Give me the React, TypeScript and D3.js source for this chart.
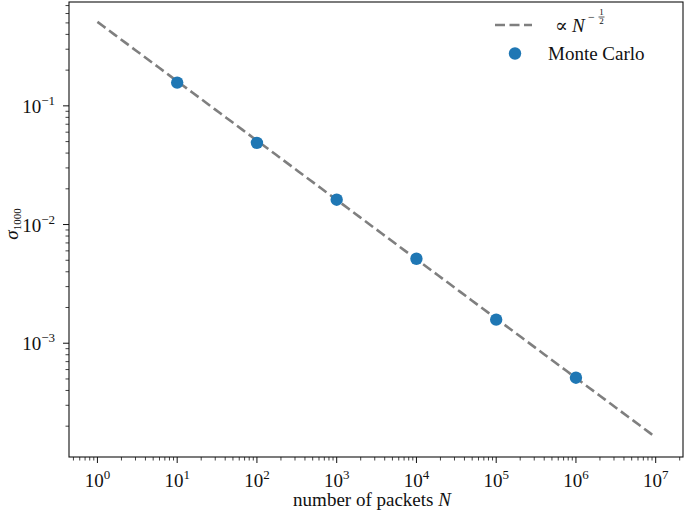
import React from 'react'
import * as d3 from 'd3'

const packets = [10, 100, 1000, 10000, 100000, 1000000]
const sigma = [0.157, 0.0488, 0.0162, 0.00515, 0.00158, 0.000512]
const fitN = [1, 10000000]
const fitC = 0.51
const xTickExp = [0, 1, 2, 3, 4, 5, 6, 7]
const yTickExp = [-1, -2, -3]

const W = 685
const H = 513
const m = {left: 69, right: 683, top: 2, bottom: 457}
const font = "'Liberation Serif', 'DejaVu Serif', serif"
const fs = 19

const Pow = ({exp, ...rest}: any) => (
  <text {...rest} fontFamily={font} fontSize={fs} fill="#111">
    10<tspan dy={-8} fontSize={13}>{exp < 0 ? '\u2212' + -exp : exp}</tspan>
  </text>
)

const App = () => {
  const x = d3.scaleLog().domain([0.44, 2.2e7]).range([m.left, m.right])
  const y = d3.scaleLog().domain([0.75, 1.1e-4]).range([m.top, m.bottom])

  const fitPts = d3.range(0, 101).map(i => {
    const n = Math.pow(10, Math.log10(fitN[0]) + (i / 100) * (Math.log10(fitN[1]) - Math.log10(fitN[0])))
    return [n, fitC / Math.sqrt(n)]
  })
  const line = d3.line<number[]>().x(d => x(d[0])).y(d => y(d[1]))

  const xMinor: number[] = []
  for (let e = -1; e <= 7; e++) for (let k = 2; k <= 9; k++) {
    const v = k * Math.pow(10, e)
    if (v > 0.44 && v < 2.2e7) xMinor.push(v)
  }
  const yMinor: number[] = []
  for (let e = -4; e <= 0; e++) for (let k = 2; k <= 9; k++) {
    const v = k * Math.pow(10, e)
    if (v > 1.1e-4 && v < 0.75) yMinor.push(v)
  }

  return (
    <svg width={W} height={H} style={{position: 'absolute', left: 0, top: 0}}>
      <rect width={W} height={H} fill="white" />
      <path d={line(fitPts) as string} fill="none" stroke="#7f7f7f" strokeWidth={2.6} strokeDasharray="10,4.5" />
      {packets.map((n, i) => (
        <circle key={n} cx={x(n)} cy={y(sigma[i])} r={6.2} fill="#1f77b4" />
      ))}
      <rect x={m.left} y={m.top} width={m.right - m.left} height={m.bottom - m.top} fill="none" stroke="#111" strokeWidth={1.1} />
      {xTickExp.map(e => (
        <g key={e}>
          <line x1={x(Math.pow(10, e))} x2={x(Math.pow(10, e))} y1={m.bottom} y2={m.bottom + 6} stroke="#111" />
          <Pow exp={e} x={x(Math.pow(10, e))} y={m.bottom + 30} textAnchor="middle" />
        </g>
      ))}
      {xMinor.map(v => (
        <line key={v} x1={x(v)} x2={x(v)} y1={m.bottom} y2={m.bottom + 3.5} stroke="#111" strokeWidth={0.8} />
      ))}
      {yTickExp.map(e => (
        <g key={e}>
          <line x1={m.left - 6} x2={m.left} y1={y(Math.pow(10, e))} y2={y(Math.pow(10, e))} stroke="#111" />
          <Pow exp={e} x={m.left - 14} y={y(Math.pow(10, e)) + 7} textAnchor="end" />
        </g>
      ))}
      {yMinor.map(v => (
        <line key={v} x1={m.left - 3.5} x2={m.left} y1={y(v)} y2={y(v)} stroke="#111" strokeWidth={0.8} />
      ))}
      <text x={372} y={506} textAnchor="middle" fontFamily={font} fontSize={fs} fill="#111">
        number of packets <tspan fontStyle="italic">N</tspan>
      </text>
      <text transform={`translate(18,224) rotate(-90)`} textAnchor="middle" fontFamily={font} fontSize={fs} fill="#111">
        <tspan fontStyle="italic">σ</tspan><tspan dy={3} fontSize={11}>1000</tspan>
      </text>
      <g>
        <line x1={495} x2={532} y1={25} y2={25} stroke="#7f7f7f" strokeWidth={2.6} strokeDasharray="10,4.5" />
        <text x={555} y={32} fontFamily={font} fontSize={fs} fill="#111">∝</text>
        <text x={572} y={32} fontFamily={font} fontSize={fs} fontStyle="italic" fill="#111">N</text>
        <text x={588} y={21} fontFamily={font} fontSize={12} fill="#111">−</text>
        <text x={601.5} y={15} textAnchor="middle" fontFamily={font} fontSize={9} fill="#111">1</text>
        <line x1={598.5} x2={604.5} y1={17} y2={17} stroke="#111" strokeWidth={0.7} />
        <text x={601.5} y={24} textAnchor="middle" fontFamily={font} fontSize={9} fill="#111">2</text>
        <circle cx={515} cy={53.5} r={6.2} fill="#1f77b4" />
        <text x={548} y={60} fontFamily={font} fontSize={fs} fill="#111">Monte Carlo</text>
      </g>
    </svg>
  )
}

export default App
